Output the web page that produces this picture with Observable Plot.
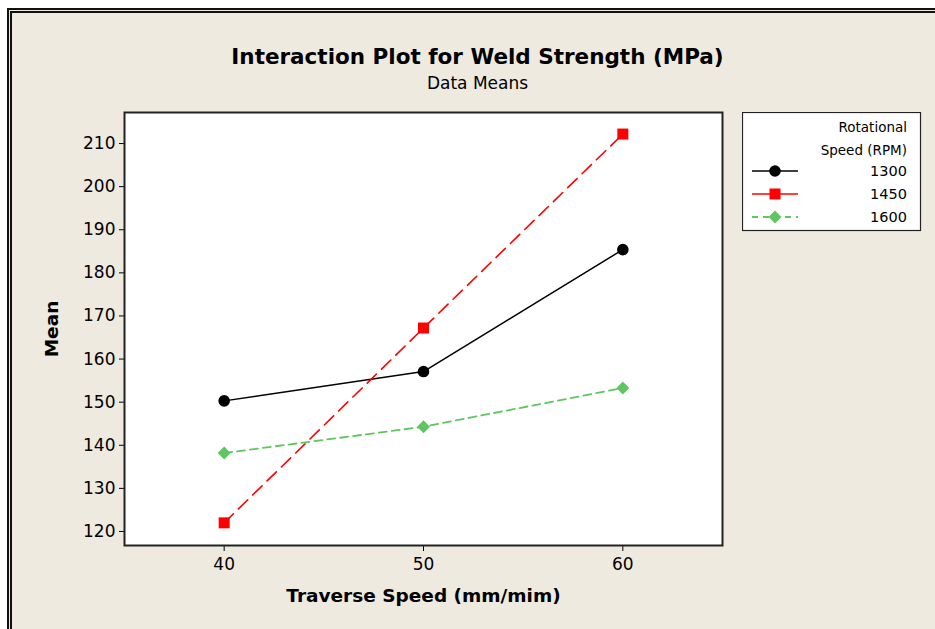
<!DOCTYPE html>
<html>
<head>
<meta charset="utf-8">
<script src="https://cdn.jsdelivr.net/npm/d3@7"></script>
<script src="https://cdn.jsdelivr.net/npm/@observablehq/plot@0.6"></script>
<style>
  html, body { margin: 0; padding: 0; background: #ffffff; overflow: hidden; }
  #page { position: relative; width: 935px; height: 629px; overflow: hidden; font-family: "DejaVu Sans", sans-serif; }
  #panel { position: absolute; left: 7px; top: 8px; width: 1000px; height: 700px; background: #EEEAE0;
           border-left: 5px double #111; border-top: 5px double #111; }
  #title { position: absolute; left: 0; width: 955px; top: 44px; text-align: center; font-weight: bold; font-size: 21.5px; color: #000; }
  #subtitle { position: absolute; left: 0; width: 955px; top: 73px; text-align: center; font-size: 17px; color: #000; }
  #chart { position: absolute; left: 0; top: 0; }
  #legend { position: absolute; left: 742px; top: 112px; }
</style>
</head>
<body>
<div id="page">
  <div id="panel"></div>
  <div id="title">Interaction Plot for Weld Strength (MPa)</div>
  <div id="subtitle">Data Means</div>
  <div id="chart"></div>
  <div id="legend"></div>
</div>
<script>
// ---- data ----
const traverseSpeeds = [40, 50, 60];
const rotationalSpeeds = ["1300", "1450", "1600"];
const mean1300 = [150.3, 157.1, 185.4];
const mean1450 = [122.0, 167.2, 212.2];
const mean1600 = [138.2, 144.3, 153.3];
const yTicks = [120, 130, 140, 150, 160, 170, 180, 190, 200, 210];
const xTicks = [40, 50, 60];

const seriesValues = [mean1300, mean1450, mean1600];
const table = rotationalSpeeds.flatMap((r, i) =>
  traverseSpeeds.map((x, j) => ({ rpm: r, x, y: seriesValues[i][j] })));

const styles = {
  "1300": { color: "#000000", dash: null, symbol: "circle", r: 5.8, width: 1.5 },
  "1450": { color: "#FF0000", dash: "13,7", symbol: "square", r: 6.2, width: 1.6 },
  "1600": { color: "#5EC65E", dash: "8,5", symbol: "diamond2", r: 5.8, width: 1.8 }
};

const marks = [Plot.frame({ fill: "white", stroke: "#222", strokeWidth: 2 })];
for (const r of rotationalSpeeds) {
  const s = styles[r];
  const d = table.filter(t => t.rpm === r);
  marks.push(Plot.line(d, { x: "x", y: "y", stroke: s.color, strokeWidth: s.width, strokeDasharray: s.dash }));
}
for (const r of rotationalSpeeds) {
  const s = styles[r];
  const d = table.filter(t => t.rpm === r);
  marks.push(Plot.dot(d, { x: "x", y: "y", fill: s.color, stroke: "none", symbol: () => s.symbol, r: s.r }));
}

const chart = Plot.plot({
  width: 935,
  height: 629,
  marginLeft: 124,
  marginRight: 213,
  marginTop: 112,
  marginBottom: 84,
  style: { background: "transparent", fontFamily: "DejaVu Sans, sans-serif", fontSize: "17px", color: "#000" },
  x: { domain: [35, 65], ticks: xTicks, tickSize: 6, tickPadding: 6, label: "Traverse Speed (mm/mim)", labelAnchor: "center", labelArrow: "none", labelOffset: 56 },
  y: { domain: [116.75, 217.2], ticks: yTicks, tickSize: 5, tickPadding: 4, label: "Mean", labelAnchor: "center", labelArrow: "none", labelOffset: 80 },
  symbol: { type: "identity" },
  marks
});
document.getElementById("chart").appendChild(chart);

// axis label styling
d3.select(chart).selectAll("[aria-label='x-axis label'] text, [aria-label='y-axis label'] text")
  .style("font-weight", "bold").style("font-size", "18.5px");

// ---- legend ----
const legendTitle = ["Rotational", "Speed (RPM)"];
const L = d3.select("#legend").append("svg").attr("width", 180).attr("height", 120)
  .style("font-family", "DejaVu Sans, sans-serif").style("font-size", "13.5px");
L.append("rect").attr("x", 0.5).attr("y", 0.5).attr("width", 178).attr("height", 118)
  .attr("fill", "white").attr("stroke", "#222").attr("stroke-width", 1.2);
legendTitle.forEach((t, i) => L.append("text").attr("x", 165).attr("y", 20 + i * 23).attr("text-anchor", "end").text(t));
rotationalSpeeds.forEach((r, i) => {
  const s = styles[r];
  const y = 59 + i * 23;
  L.append("text").attr("x", 165).attr("y", y + 5).attr("text-anchor", "end").style("font-size", "14.5px").text(r);
  L.append("line").attr("x1", 10).attr("x2", 56).attr("y1", y).attr("y2", y)
    .attr("stroke", s.color).attr("stroke-width", s.width).attr("stroke-dasharray", r === "1600" ? "6,5" : null);
  const sym = s.symbol === "circle" ? d3.symbolCircle : s.symbol === "square" ? d3.symbolSquare : d3.symbolDiamond2;
  L.append("path").attr("d", d3.symbol(sym, Math.PI * s.r * s.r)()).attr("transform", `translate(33,${y})`).attr("fill", s.color);
});
</script>
</body>
</html>
